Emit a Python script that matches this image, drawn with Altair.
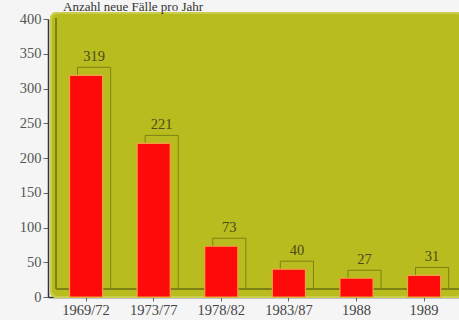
import altair as alt
import pandas as pd

periods = ["1969/72", "1973/77", "1978/82", "1983/87", "1988", "1989"]
cases = [319, 221, 73, 40, 27, 31]
title_text = "Anzahl neue Fälle pro Jahr"

df = pd.DataFrame({"period": periods, "cases": cases})

W, H = 411, 278
SERIF = "Liberation Serif"
PLOT_BG = "#b9bc1e"
EDGE = "#7c8212"

xs = alt.X("period:N", sort=periods,
           scale=alt.Scale(paddingInner=0.51, paddingOuter=0.295, align=0.54),
           axis=alt.Axis(title=None, labelAngle=0, labelFont=SERIF, labelFontSize=14.5,
                         labelColor="#444", domainColor="#333", domainWidth=1.5,
                         tickColor="#666", tickSize=4, labelPadding=2))
ys = alt.Y("cases:Q", scale=alt.Scale(domain=[0, 400], nice=False),
           axis=alt.Axis(title=None, values=list(range(0, 401, 50)), labelFont=SERIF,
                         labelFontSize=14.5, labelColor="#555", domainColor="#333",
                         domainWidth=1.5, tickColor="#666", tickSize=5, grid=False,
                         labelPadding=2))

base = alt.Chart(df)

# background box (slightly taller than the plot, 3D top edge)
bg = base.mark_rect(fill=PLOT_BG, cornerRadius=6, stroke="#cacd4c", strokeWidth=2).encode(
    x=alt.value(3), x2=alt.value(W + 4), y=alt.value(-6), y2=alt.value(H)
)

# floor back edge
floor = base.mark_rule(color=EDGE, strokeWidth=1).encode(
    x=alt.value(8), x2=alt.value(W), y=alt.value(H - 8)
)
left_wall = base.mark_rule(color=EDGE, strokeWidth=1).encode(
    x=alt.value(8), y=alt.value(-1), y2=alt.value(H - 8)
)

# 3D back outline of bars
back = base.mark_bar(fill=None, stroke=EDGE, strokeWidth=1, xOffset=8, yOffset=-8).encode(
    x=xs, y=ys
)

bars = base.mark_bar(color="#ff0a0a", stroke="#f0a040", strokeWidth=1.2).encode(
    x=xs, y=ys
)

labels = base.mark_text(font=SERIF, fontSize=14.5, color="#4a4a1a", dx=8, dy=-11,
                        baseline="bottom").encode(
    x=xs, y=ys, text="cases:Q"
)

title = alt.Chart(pd.DataFrame({"t": [title_text]})).mark_text(
    font=SERIF, fontSize=13, color="#333", align="left", baseline="alphabetic"
).encode(x=alt.value(15), y=alt.value(-8), text="t:N")

chart = alt.layer(bg, floor, left_wall, back, bars, labels, title).properties(
    width=W, height=H,
    background="#f4f5f4",
    padding={"left": 48, "top": 19, "right": 0, "bottom": 23},
    autosize=alt.AutoSizeParams(type="none"),
).configure_view(stroke=None, fill=None)

chart.save("out.html", embed_options={"renderer": "svg", "actions": False})
